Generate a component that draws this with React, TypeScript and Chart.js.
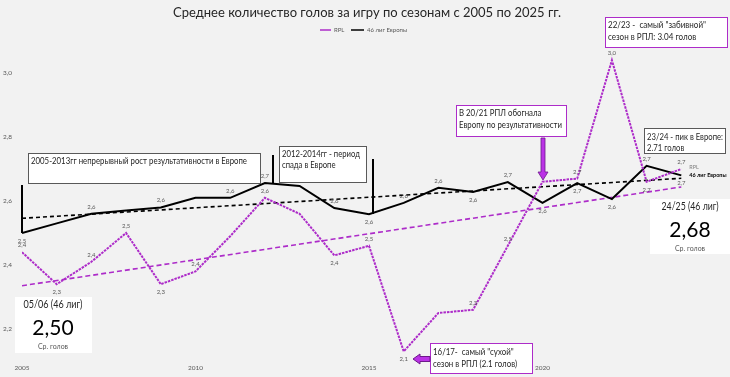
import React, { useEffect, useRef } from 'react';
import { Chart, registerables } from 'chart.js';

Chart.register(...registerables);

// ---------- DATA ----------
const seasons = ['05/06','06/07','07/08','08/09','09/10','10/11','11/12','12/13','13/14','14/15','15/16','16/17','17/18','18/19','19/20','20/21','21/22','22/23','23/24','24/25'];
const seasonStartYears = [2005,2006,2007,2008,2009,2010,2011,2012,2013,2014,2015,2016,2017,2018,2019,2020,2021,2022,2023,2024];
const rplGoals = [2.44,2.34,2.41,2.50,2.34,2.38,2.49,2.61,2.56,2.43,2.46,2.13,2.25,2.26,2.46,2.66,2.67,3.04,2.66,2.70];
const europeGoals = [2.50,2.53,2.56,2.57,2.58,2.61,2.61,2.656,2.647,2.578,2.559,2.594,2.641,2.628,2.659,2.594,2.656,2.606,2.71,2.68];
const yTickValues = [2.2, 2.4, 2.6, 2.8, 3.0];
const xTickYears = [2005, 2010, 2015, 2020];
const seriesNames = ['RPL', '46 лиг Европы'];

// label placement (style only)
const rplLabelSide = ['above','below','above','above','below','above','none','above','none','below','above','below','none','above','above','none','above','above','below','above'];
const europeLabelSide = ['below','none','above','none','above','none','above','above','none','above','below','above','above','below','above','below','below','below','above','below'];

const RPL_COLOR = '#ad2cc9';
const FF = 'Lato, "Open Sans", sans-serif';

function fitLine(xs: number[], ys: number[]) {
  const n = xs.length;
  const mx = xs.reduce((a, b) => a + b, 0) / n;
  const my = ys.reduce((a, b) => a + b, 0) / n;
  let sxy = 0, sxx = 0;
  for (let i = 0; i < n; i++) { sxy += (xs[i] - mx) * (ys[i] - my); sxx += (xs[i] - mx) ** 2; }
  const slope = sxy / sxx;
  return (x: number) => my + slope * (x - mx);
}

const rplTrend = fitLine(seasonStartYears, rplGoals);
const europeTrend = fitLine(seasonStartYears, europeGoals);
const firstYear = seasonStartYears[0];
const lastYear = seasonStartYears[seasonStartYears.length - 1];

const fmt = (v: number) => v.toFixed(1).replace('.', ',');

function text(ctx: CanvasRenderingContext2D, s: string, x: number, y: number, font: string, color: string, align: CanvasTextAlign = 'left', maxW?: number) {
  ctx.font = font;
  ctx.fillStyle = color;
  ctx.textAlign = align;
  ctx.textBaseline = 'middle';
  if (maxW) ctx.fillText(s, x, y, maxW); else ctx.fillText(s, x, y);
}

// draws lines with one common horizontal scale so the widest line gets targetW
function linesFit(ctx: CanvasRenderingContext2D, lines: string[], x: number, y0: number, lh: number, targetW: number, font: string, color: string, align: CanvasTextAlign = 'left') {
  ctx.font = font;
  const widest = Math.max(...lines.map((l) => ctx.measureText(l).width));
  const sx = targetW / widest;
  lines.forEach((l, i) => {
    ctx.save();
    ctx.translate(x, y0 + i * lh);
    ctx.scale(sx, 1);
    ctx.font = font;
    ctx.fillStyle = color;
    ctx.textAlign = align;
    ctx.textBaseline = 'middle';
    ctx.fillText(l, 0, 0);
    ctx.restore();
  });
}

function box(ctx: CanvasRenderingContext2D, x: number, y: number, w: number, h: number, border: string | null) {
  ctx.fillStyle = '#ffffff';
  ctx.fillRect(x, y, w, h);
  if (border) {
    ctx.strokeStyle = border;
    ctx.lineWidth = 1;
    ctx.strokeRect(x + 0.5, y + 0.5, w - 1, h - 1);
  }
}

const decorPlugin = {
  id: 'decor',
  beforeDraw(chart: any) {
    const { ctx, width, height } = chart;
    ctx.save();
    ctx.fillStyle = '#f2f2f2';
    ctx.fillRect(0, 0, width, height);
    ctx.restore();
  },
  afterDatasetsDraw(chart: any) {
    const ctx: CanvasRenderingContext2D = chart.ctx;
    ctx.save();
    const sets: [number, number[], string[]][] = [[0, rplGoals, rplLabelSide], [1, europeGoals, europeLabelSide]];
    sets.forEach(([di, vals, sides]) => {
      const meta = chart.getDatasetMeta(di);
      meta.data.forEach((pt: any, i: number) => {
        const side = sides[i];
        if (side === 'none') return;
        const dy = side === 'above' ? -7 : 8;
        text(ctx, fmt(vals[i]), pt.x, pt.y + dy, `6px ${FF}`, '#595959', 'center');
      });
    });
    // trend-end series names
    const xs = chart.scales.x;
    const lx = xs.getPixelForValue(lastYear) + 8;
    text(ctx, seriesNames[0], lx, 167, `5.5px ${FF}`, '#7f7f7f', 'left');
    text(ctx, seriesNames[1], lx, 175, `bold 5.5px ${FF}`, '#000000', 'left');
    ctx.restore();
  },
  afterDraw(chart: any) {
    const ctx: CanvasRenderingContext2D = chart.ctx;
    ctx.save();
    // title
    text(ctx, 'Среднее количество голов за игру по сезонам с 2005 по 2025 гг.', 367, 12, `14px ${FF}`, '#262626', 'center', 388);
    // legend
    ctx.lineWidth = 1.5;
    ctx.strokeStyle = RPL_COLOR;
    ctx.beginPath(); ctx.moveTo(320, 30); ctx.lineTo(331, 30); ctx.stroke();
    text(ctx, seriesNames[0], 334, 30, `6px ${FF}`, '#595959', 'left');
    ctx.strokeStyle = '#000';
    ctx.beginPath(); ctx.moveTo(351, 30); ctx.lineTo(364, 30); ctx.stroke();
    text(ctx, seriesNames[1], 367, 30, `6px ${FF}`, '#595959', 'left');

    // vertical markers
    ctx.strokeStyle = '#000';
    ctx.lineWidth = 2;
    const vlines = [[22, 185, 233], [273, 155, 183], [373, 159, 214]];
    vlines.forEach(([x, y0, y1]) => { ctx.beginPath(); ctx.moveTo(x, y0); ctx.lineTo(x, y1); ctx.stroke(); });

    const tf = `10px ${FF}`;
    const tc = '#262626';
    // box 1
    box(ctx, 28, 153, 233, 31, '#595959');
    linesFit(ctx, ['2005-2013гг непрерывный рост результативности в Европе'], 31, 161, 11, 216, tf, tc);
    // box 2
    box(ctx, 279, 146, 88, 37, '#595959');
    linesFit(ctx, ['2012-2014гг - период', 'спада в Европе'], 282, 154, 11, 78, tf, tc);
    // box 3
    box(ctx, 456, 105, 111, 32, RPL_COLOR);
    linesFit(ctx, ['В 20/21 РПЛ обогнала', 'Европу по результативности'], 459, 113, 12, 103, tf, tc);
    // down arrow
    ctx.fillStyle = '#bb33e6';
    ctx.strokeStyle = '#6d1a8a';
    ctx.lineWidth = 0.8;
    ctx.beginPath();
    ctx.moveTo(541, 138); ctx.lineTo(545, 138); ctx.lineTo(545, 172); ctx.lineTo(548, 172);
    ctx.lineTo(543, 180); ctx.lineTo(538, 172); ctx.lineTo(541, 172); ctx.closePath();
    ctx.fill(); ctx.stroke();
    // box 4
    box(ctx, 605, 17, 123, 31, RPL_COLOR);
    linesFit(ctx, ['22/23 -  самый "забивной"', 'сезон в РПЛ: 3.04 голов'], 608, 25, 11.5, 98, tf, tc);
    // box 5
    box(ctx, 644, 128, 82, 26, '#595959');
    linesFit(ctx, ['23/24 - пик в Европе:', '2.71 голов'], 647, 137, 10.5, 76, tf, tc);
    // box 6
    box(ctx, 430, 343, 103, 31, RPL_COLOR);
    linesFit(ctx, ['16/17-  самый "сухой"', 'сезон в РПЛ (2.1 голов)'], 433, 352, 11.5, 84, tf, tc);
    // left arrow
    ctx.fillStyle = '#bb33e6';
    ctx.strokeStyle = '#6d1a8a';
    ctx.beginPath();
    ctx.moveTo(430, 356.5); ctx.lineTo(420, 356.5); ctx.lineTo(420, 354); ctx.lineTo(413, 359);
    ctx.lineTo(420, 364); ctx.lineTo(420, 361.5); ctx.lineTo(430, 361.5); ctx.closePath();
    ctx.fill(); ctx.stroke();

    // KPI card 1
    box(ctx, 15, 297, 77, 56, null);
    linesFit(ctx, [`${seasons[0]} (46 лиг)`], 53, 305, 10, 59, `10.5px ${FF}`, tc, 'center');
    text(ctx, europeGoals[0].toFixed(2).replace('.', ','), 53, 328, `21px ${FF}`, '#000', 'center');
    text(ctx, 'Ср. голов', 53, 347, `7px ${FF}`, '#595959', 'center');
    // KPI card 2
    const li = europeGoals.length - 1;
    box(ctx, 650, 199, 80, 55, null);
    linesFit(ctx, [`${seasons[li]} (46 лиг)`], 690, 207, 10, 57, `10.5px ${FF}`, tc, 'center');
    text(ctx, europeGoals[li].toFixed(2).replace('.', ','), 690, 230, `21px ${FF}`, '#000', 'center');
    text(ctx, 'Ср. голов', 690, 249, `7px ${FF}`, '#595959', 'center');
    ctx.restore();
  },
};

export default function App() {
  const ref = useRef<HTMLCanvasElement | null>(null);
  useEffect(() => {
    if (!ref.current) return;
    const chart = new Chart(ref.current, {
      type: 'line',
      data: {
        datasets: [
          {
            label: seriesNames[0],
            data: seasonStartYears.map((x, i) => ({ x, y: rplGoals[i] })),
            borderColor: RPL_COLOR,
            borderWidth: 2,
            borderDash: [2.5, 1],
            pointRadius: 0,
            tension: 0,
          },
          {
            label: seriesNames[1],
            data: seasonStartYears.map((x, i) => ({ x, y: europeGoals[i] })),
            borderColor: '#000000',
            borderWidth: 2,
            pointRadius: 0,
            tension: 0,
          },
          {
            label: 'trend RPL',
            data: [{ x: firstYear, y: rplTrend(firstYear) }, { x: lastYear, y: rplTrend(lastYear) }],
            borderColor: RPL_COLOR,
            borderWidth: 1.6,
            borderDash: [5, 3],
            pointRadius: 0,
          },
          {
            label: 'trend Europe',
            data: [{ x: firstYear, y: europeTrend(firstYear) }, { x: lastYear, y: europeTrend(lastYear) }],
            borderColor: '#000000',
            borderWidth: 1.6,
            borderDash: [4, 3],
            pointRadius: 0,
          },
        ],
      },
      options: {
        animation: false,
        responsive: false,
        devicePixelRatio: 1,
        layout: { padding: { top: 41, right: 14, left: 0, bottom: 0 } },
        plugins: { legend: { display: false }, title: { display: false }, tooltip: { enabled: false } },
        scales: {
          x: {
            type: 'linear',
            min: 2005,
            max: 2025,
            grid: { display: false, drawTicks: false },
            border: { display: false },
            afterBuildTicks: (s: any) => { s.ticks = xTickYears.map((v) => ({ value: v })); },
            afterFit: (s: any) => { s.height = 16; },
            ticks: {
              padding: 3,
              autoSkip: false,
              maxRotation: 0,
              font: { family: FF, size: 6.5 },
              color: '#595959',
              callback: (v: any) => String(v),
            },
          },
          y: {
            type: 'linear',
            min: 2.1,
            max: 3.1,
            grid: { display: false, drawTicks: false },
            border: { display: false },
            afterBuildTicks: (s: any) => { s.ticks = yTickValues.map((v) => ({ value: v })); },
            afterFit: (s: any) => { s.width = 22; },
            ticks: {
              padding: 10,
              font: { family: FF, size: 6.5 },
              color: '#595959',
              callback: (v: any) => Number(v).toFixed(1).replace('.', ','),
            },
          },
        },
      },
      plugins: [decorPlugin],
    } as any);
    return () => chart.destroy();
  }, []);
  return (
    <div style={{ position: 'fixed', left: 0, top: 0, width: 730, height: 377, background: '#f2f2f2' }}>
      <canvas ref={ref} width={730} height={377} style={{ display: 'block', width: 730, height: 377 }} />
    </div>
  );
}
